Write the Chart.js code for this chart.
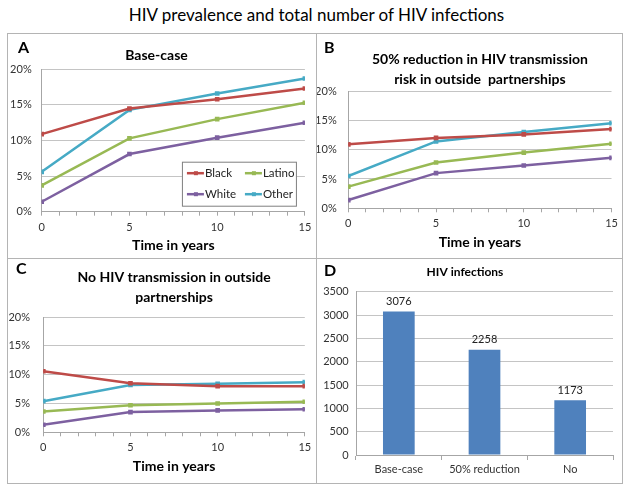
<!DOCTYPE html>
<html>
<head>
<meta charset="utf-8">
<script src="https://cdn.jsdelivr.net/npm/chart.js@4"></script>
<style>
  body { margin: 0; background: #fff; font-family: Lato, sans-serif; }
  #title { position: absolute; left: 0; top: 4px; width: 633px; text-align: center; font-size: 17px; color: #000; }
  .panel { position: absolute; box-sizing: border-box; border: 1px solid #B4B4B4; }
  .box { position: absolute; left: 0; top: 0; }
  .letter { position: absolute; font-size: 16px; font-weight: bold; line-height: 16px; color: #000; }
</style>
</head>
<body>
<div id="title">HIV prevalence and total number of HIV infections</div>

<div class="panel" style="left:7px; top:33px; width:310px; height:226px;">
  <div class="box" style="width:308px; height:224px;"><canvas id="chartA"></canvas></div>
</div>
<div class="panel" style="left:316px; top:33px; width:307px; height:226px;">
  <div class="box" style="width:305px; height:224px;"><canvas id="chartB"></canvas></div>
</div>
<div class="panel" style="left:7px; top:258px; width:310px; height:226px;">
  <div class="box" style="width:308px; height:224px;"><canvas id="chartC"></canvas></div>
</div>
<div class="panel" style="left:316px; top:258px; width:307px; height:226px;">
  <div class="box" style="width:305px; height:224px;"><canvas id="chartD"></canvas></div>
</div>

<div class="letter" style="left:18px; top:39px;">A</div>
<div class="letter" style="left:324px; top:39px;">B</div>
<div class="letter" style="left:16px; top:260px;">C</div>
<div class="letter" style="left:324px; top:262px;">D</div>

<script>
const years = [0, 5, 10, 15];
const groups = ['Black', 'Latino', 'White', 'Other'];
const groupColors = ['#BE4B48', '#98B954', '#7D60A0', '#46AAC5'];

// A: base-case (%)
const baseBlack = [10.9, 14.5, 15.8, 17.3];
const baseLatino = [3.7, 10.3, 13.0, 15.3];
const baseWhite = [1.4, 8.1, 10.4, 12.5];
const baseOther = [5.6, 14.3, 16.6, 18.7];

// B: 50% reduction in outside partnerships (%)
const halfBlack = [10.9, 12.0, 12.6, 13.5];
const halfLatino = [3.7, 7.8, 9.5, 11.0];
const halfWhite = [1.4, 6.0, 7.3, 8.6];
const halfOther = [5.5, 11.4, 13.0, 14.5];

// C: no transmission in outside partnerships (%)
const noneBlack = [10.6, 8.5, 8.0, 8.0];
const noneLatino = [3.6, 4.7, 5.0, 5.3];
const noneWhite = [1.3, 3.5, 3.8, 4.0];
const noneOther = [5.4, 8.2, 8.4, 8.7];

// D: total HIV infections
const scenarios = ['Base-case', '50% reduction', 'No'];
const infections = [3076, 2258, 1173];

Chart.defaults.font.family = 'Lato';
Chart.defaults.font.size = 11;
Chart.defaults.color = '#333';

const axisGrey = '#A6A6A6';
const gridGrey = '#C4C4C4';

// legend box drawn inside panel A
const insideLegend = {
  id: 'insideLegend',
  afterDraw(chart) {
    const {ctx, chartArea} = chart;
    const w = 114, h = 44;
    const x0 = chartArea.right - 9 - w;
    const y0 = chartArea.bottom - 6 - h;
    ctx.save();
    ctx.fillStyle = '#fff';
    ctx.fillRect(x0, y0, w, h);
    ctx.strokeStyle = '#7F7F7F';
    ctx.lineWidth = 1;
    ctx.strokeRect(x0 + 0.5, y0 + 0.5, w, h);
    ctx.font = '11.5px Lato';
    ctx.textBaseline = 'middle';
    chart.data.datasets.forEach((ds, i) => {
      const lx = x0 + 5 + (i % 2) * 58;
      const ly = y0 + 11.5 + Math.floor(i / 2) * 21;
      ctx.strokeStyle = ds.borderColor;
      ctx.lineWidth = 2.5;
      ctx.beginPath();
      ctx.moveTo(lx, ly);
      ctx.lineTo(lx + 17, ly);
      ctx.stroke();
      ctx.fillStyle = ds.borderColor;
      ctx.fillRect(lx + 7, ly - 2, 4, 4);
      ctx.fillStyle = '#222';
      ctx.fillText(ds.label, lx + 18, ly);
    });
    ctx.restore();
  }
};

// numbers above bars in panel D
const barValues = {
  id: 'barValues',
  afterDatasetsDraw(chart) {
    const {ctx} = chart;
    ctx.save();
    ctx.font = '11px Lato';
    ctx.fillStyle = '#222';
    ctx.textAlign = 'center';
    ctx.textBaseline = 'middle';
    chart.getDatasetMeta(0).data.forEach((bar, i) => {
      ctx.fillText(infections[i], bar.x, bar.y - 10);
    });
    ctx.restore();
  }
};

function prevalence(id, series, p) {
  return new Chart(document.getElementById(id), {
    type: 'line',
    data: {
      datasets: series.map((vals, i) => ({
        label: groups[i],
        data: vals.map((v, j) => ({x: years[j], y: v})),
        borderColor: groupColors[i],
        backgroundColor: groupColors[i],
        borderWidth: 2.5,
        pointStyle: 'rect',
        pointRadius: 1.5,
        tension: 0
      }))
    },
    options: {
      responsive: true,
      maintainAspectRatio: false,
      animation: false,
      layout: {padding: {right: p.right}},
      plugins: {
        legend: {display: false},
        tooltip: {enabled: false},
        title: {
          display: true,
          text: p.title,
          fullSize: p.full,
          color: '#000',
          font: {size: 14, weight: 'bold', lineHeight: p.lh},
          padding: {top: p.tTop, bottom: p.tBottom}
        }
      },
      scales: {
        x: {
          type: 'linear',
          min: 0,
          max: 15,
          ticks: {stepSize: 1, autoSkip: false, maxRotation: 0, padding: p.xPad,
            callback: v => v % 5 === 0 ? v : ''},
          grid: {drawOnChartArea: false, tickLength: 4, color: axisGrey},
          border: {color: axisGrey},
          title: {display: true, text: 'Time in years', color: '#000',
            font: {size: 14, weight: 'bold'}, padding: {top: 0, bottom: p.xtBottom}},
          afterFit: s => { s.height = p.xH; }
        },
        y: {
          min: 0,
          max: 20,
          ticks: {stepSize: 5, padding: p.yPad, callback: v => v + '%'},
          grid: {drawTicks: false, color: gridGrey},
          border: {color: axisGrey},
          afterFit: s => { s.width = p.yW; }
        }
      }
    },
    plugins: p.plugins || []
  });
}

prevalence('chartA', [baseBlack, baseLatino, baseWhite, baseOther], {
  title: 'Base-case', full: true, lh: '16px', tTop: 13, tBottom: 6.3,
  yW: 33.7, yPad: 10, xH: 46.3, xPad: 4.7, xtBottom: 4.6, right: 11,
  plugins: [insideLegend]
});

prevalence('chartB', [halfBlack, halfLatino, halfWhite, halfOther], {
  title: ['50% reduction in HIV transmission', 'risk in outside  partnerships'],
  full: false, lh: '20px', tTop: 15, tBottom: 2,
  yW: 31.3, yPad: 11.6, xH: 49.7, xPad: 4.1, xtBottom: 7.6, right: 10
});

prevalence('chartC', [noneBlack, noneLatino, noneWhite, noneOther], {
  title: ['No HIV transmission in outside', 'partnerships'],
  full: false, lh: '20px', tTop: 8, tBottom: 10,
  yW: 35.3, yPad: 13.3, xH: 50.7, xPad: 4.8, xtBottom: 7.9, right: 11
});

new Chart(document.getElementById('chartD'), {
  type: 'bar',
  data: {
    labels: scenarios,
    datasets: [{
      data: infections,
      backgroundColor: '#4F81BD',
      barPercentage: 0.37,
      categoryPercentage: 1
    }]
  },
  options: {
    responsive: true,
    maintainAspectRatio: false,
    animation: false,
    layout: {padding: {right: 9}},
    plugins: {
      legend: {display: false},
      tooltip: {enabled: false},
      title: {
        display: true,
        text: 'HIV infections',
        color: '#000',
        font: {size: 12, weight: 'bold', lineHeight: '14px'},
        padding: {top: 6, bottom: 12.7}
      }
    },
    scales: {
      x: {
        ticks: {padding: 3.3},
        grid: {drawOnChartArea: false, tickLength: 5, color: axisGrey},
        border: {color: axisGrey},
        afterFit: s => { s.height = 28; }
      },
      y: {
        min: 0,
        max: 3500,
        ticks: {stepSize: 500, padding: 7.3, callback: v => String(v)},
        grid: {drawTicks: false, color: gridGrey},
        border: {color: axisGrey},
        afterFit: s => { s.width = 39; }
      }
    }
  },
  plugins: [barValues]
});
</script>
</body>
</html>
